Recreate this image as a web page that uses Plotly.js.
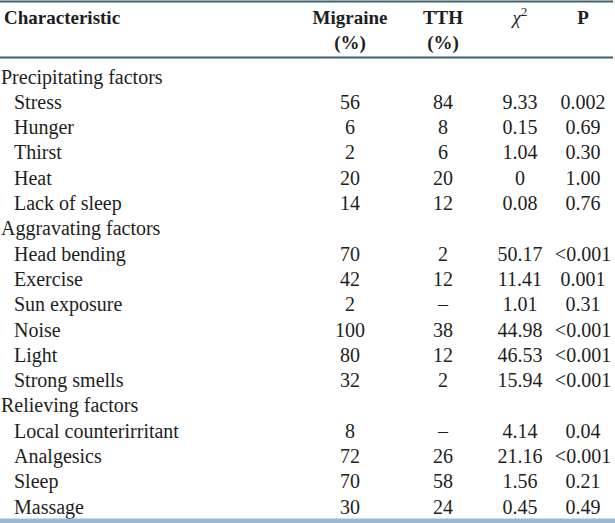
<!DOCTYPE html>
<html>
<head>
<meta charset="utf-8">
<script src="https://cdn.plot.ly/plotly-3.0.1.min.js"></script>
<style>html,body{margin:0;padding:0;background:#fff;}#chart{width:615px;height:523px;}</style>
</head>
<body>
<div id="chart"></div>
<script>
// ---- data ----
const headerTop = ["Characteristic", "Migraine", "TTH", "<i>χ</i><sup>2</sup>", "P"];
const headerBottom = ["", "(%)", "(%)", "", ""];
const characteristics = ["Precipitating factors", "Stress", "Hunger", "Thirst", "Heat", "Lack of sleep",
  "Aggravating factors", "Head bending", "Exercise", "Sun exposure", "Noise", "Light", "Strong smells",
  "Relieving factors", "Local counterirritant", "Analgesics", "Sleep", "Massage"];
const isGroup = [true, false, false, false, false, false, true, false, false, false, false, false, false,
  true, false, false, false, false];
const migraine = ["", "56", "6", "2", "20", "14", "", "70", "42", "2", "100", "80", "32", "", "8", "72", "70", "30"];
const tth = ["", "84", "8", "6", "20", "12", "", "2", "12", "–", "38", "12", "2", "", "–", "26", "58", "24"];
const chi2 = ["", "9.33", "0.15", "1.04", "0", "0.08", "", "50.17", "11.41", "1.01", "44.98", "46.53", "15.94", "", "4.14", "21.16", "1.56", "0.45"];
const pvals = ["", "0.002", "0.69", "0.30", "1.00", "0.76", "", "<0.001", "0.001", "0.31", "<0.001", "<0.001", "<0.001", "", "0.04", "<0.001", "0.21", "0.49"];

// ---- layout geometry ----
const W = 615, H = 523;
const FONT = "Liberation Serif";
const FS = 20, HFS = 19;
const colX = [null, 350, 443, 520, 583];
const row0 = 78.5, rowStep = 25.3;
const rowY = characteristics.map((_, i) => row0 + i * rowStep);

const txt = (s) => s.replace(/</g, "&lt;");
const font = {family: FONT, size: FS, color: "#1e1e1e"};
const hfont = {family: FONT, size: HFS, color: "#1e1e1e"};
const traces = [];
// first column: group labels and indented items
traces.push({
  x: characteristics.map((_, i) => isGroup[i] ? 1 : 14),
  y: rowY, text: characteristics, mode: "text", textposition: "middle right",
  textfont: font, hoverinfo: "skip", showlegend: false
});
[migraine, tth, chi2, pvals].forEach((arr, k) => {
  const idx = arr.map((v, i) => i).filter(i => arr[i] !== "");
  traces.push({
    x: idx.map(() => colX[k + 1]), y: idx.map(i => rowY[i]), text: idx.map(i => txt(arr[i])),
    mode: "text", textposition: "middle center",
    textfont: font, hoverinfo: "skip", showlegend: false
  });
});
// header
traces.push({
  x: headerTop.map((_, i) => i === 0 ? 4 : colX[i]), y: headerTop.map(() => 19),
  text: headerTop.map((t, i) => i === 3 ? t : "<b>" + t + "</b>"), mode: "text",
  textposition: headerTop.map((_, i) => i === 0 ? "middle right" : "middle center"),
  textfont: hfont, hoverinfo: "skip", showlegend: false
});
const hb = headerBottom.map((t, i) => i).filter(i => headerBottom[i] !== "");
traces.push({
  x: hb.map(i => colX[i]), y: hb.map(() => 44),
  text: hb.map(i => "<b>" + headerBottom[i] + "</b>"), mode: "text", textposition: "middle center",
  textfont: hfont, hoverinfo: "skip", showlegend: false
});

const layout = {
  width: W, height: H, margin: {l: 0, r: 0, t: 0, b: 0},
  paper_bgcolor: "#fff", plot_bgcolor: "#fff",
  font: {family: FONT},
  xaxis: {range: [0, W], visible: false, fixedrange: true},
  yaxis: {range: [H, 0], visible: false, fixedrange: true},
  shapes: [
    {type: "line", xref: "x", yref: "y", x0: 0, x1: W - 2, y0: 1.5, y1: 1.5, line: {color: "#3b6373", width: 2}},
    {type: "line", xref: "x", yref: "y", x0: 0, x1: W - 2, y0: 57.5, y1: 57.5, line: {color: "#3b6373", width: 2}},
    {type: "rect", xref: "x", yref: "y", x0: 0, x1: W, y0: 518.5, y1: 523, fillcolor: "#9bb8d9", line: {width: 0}}
  ]
};
Plotly.newPlot("chart", traces, layout, {staticPlot: true, displayModeBar: false});
</script>
</body>
</html>
